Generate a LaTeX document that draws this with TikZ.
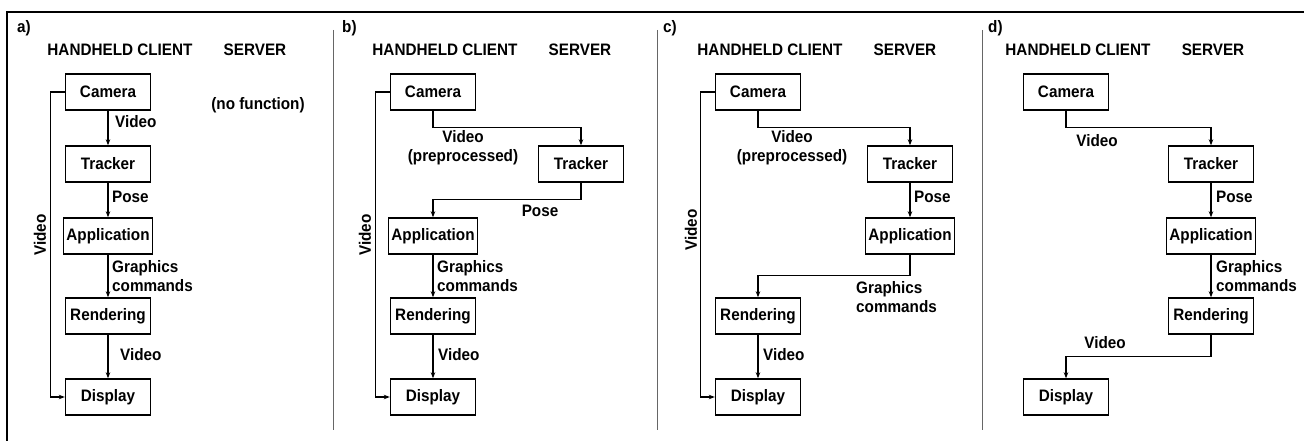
\documentclass[tikz,border=0pt]{standalone}
\usepackage{fontspec}
\setmainfont{Liberation Sans}[FakeStretch=0.92]
\usepackage{tikz}
\usetikzlibrary{arrows.meta}
\tikzstyle{bx}=[shape=rectangle,draw,line width=1.4pt,minimum width=85pt,minimum height=36pt,inner xsep=3pt]
\tikzstyle{to}=[-{Stealth[length=6pt,width=4.5pt]},line width=1.1pt]
\tikzstyle{lbl}=[inner sep=0pt,align=left]
\tikzstyle{hd}=[inner sep=0pt]
\tikzstyle{sep}=[line width=0.6pt,black!60]

\begin{document}
\begin{tikzpicture}[x=1pt,y=-1pt,font=\fontsize{16.6}{19}\selectfont\bfseries]
            \useasboundingbox (0,0) rectangle (1304,441);
            \draw[line width=2pt] (1304,12) -- (7,12) -- (7,441);
            % a) everything on the client
            \node[hd,anchor=west] (ta) at (17,28) {a)};
            \node[hd] (hca) at (120,50) {HANDHELD CLIENT};
            \node[hd] (sva) at (255,50) {SERVER};
            \node[hd] (nfa) at (258,105) {(no function)};
            \node[bx] (camA) at (108,92) {Camera};
            \node[bx] (trkA) at (108,164) {Tracker};
            \node[bx] (appA) at (108,236) {Application};
            \node[bx] (renA) at (108,316) {Rendering};
            \node[bx] (disA) at (108,397) {Display};
            \draw[to] (camA) -- (trkA);
            \draw[to] (trkA) -- (appA);
            \draw[to] (appA) -- (renA);
            \draw[to] (renA) -- (disA);
            \draw[to] (camA.west) -- ++(-14,0) |- (disA.west);
            \node[lbl,anchor=west] (va1) at (115,122) {Video};
            \node[lbl,anchor=west] (pa) at (112,197) {Pose};
            \node[lbl,anchor=west] (ga) at (112,276) {Graphics\\commands};
            \node[lbl,anchor=west] (va2) at (120,355) {Video};
            \node[lbl,rotate=90] (va3) at (40,235) {Video};
            % b) tracking on the server
            \draw[sep] (333,30) -- (333,430);
            \node[hd,anchor=west] (tb) at (342,28) {b)};
            \node[hd] (hcb) at (445,50) {HANDHELD CLIENT};
            \node[hd] (svb) at (580,50) {SERVER};
            \node[bx] (camB) at (433,92) {Camera};
            \node[bx] (trkB) at (581,164) {Tracker};
            \node[bx] (appB) at (433,236) {Application};
            \node[bx] (renB) at (433,316) {Rendering};
            \node[bx] (disB) at (433,397) {Display};
            \draw[to] (camB.south) -- ++(0,17) -| (trkB.north);
            \draw[to] (trkB.south) -- ++(0,17) -| (appB.north);
            \draw[to] (appB) -- (renB);
            \draw[to] (renB) -- (disB);
            \draw[to] (camB.west) -- ++(-14,0) |- (disB.west);
            \node[lbl,align=center] (vb1) at (463,148) {Video\\(preprocessed)};
            \node[lbl] (pb) at (540,211) {Pose};
            \node[lbl,anchor=west] (gb) at (437,276) {Graphics\\commands};
            \node[lbl,anchor=west] (vb2) at (438,355) {Video};
            \node[lbl,rotate=90] (vb3) at (365,235) {Video};
            % c) tracking and application on the server
            \draw[sep] (657,30) -- (657,430);
            \node[hd,anchor=west] (tc) at (663,28) {c)};
            \node[hd] (hcc) at (770,50) {HANDHELD CLIENT};
            \node[hd] (svc) at (905,50) {SERVER};
            \node[bx] (camC) at (758,92) {Camera};
            \node[bx] (trkC) at (910,164) {Tracker};
            \node[bx] (appC) at (910,236) {Application};
            \node[bx] (renC) at (758,316) {Rendering};
            \node[bx] (disC) at (758,397) {Display};
            \draw[to] (camC.south) -- ++(0,17) -| (trkC.north);
            \draw[to] (trkC) -- (appC);
            \draw[to] (appC.south) -- ++(0,21) -| (renC.north);
            \draw[to] (renC) -- (disC);
            \draw[to] (camC.west) -- ++(-14,0) |- (disC.west);
            \node[lbl,align=center] (vc1) at (792,148) {Video\\(preprocessed)};
            \node[lbl,anchor=west] (pc) at (914,197) {Pose};
            \node[lbl,anchor=west] (gc) at (856,297) {Graphics\\commands};
            \node[lbl,anchor=west] (vc2) at (763,355) {Video};
            \node[lbl,rotate=90] (vc3) at (691,230) {Video};
            % d) only camera and display on the client
            \draw[sep] (982,30) -- (982,430);
            \node[hd,anchor=west] (td) at (988,28) {d)};
            \node[hd] (hcd) at (1078,50) {HANDHELD CLIENT};
            \node[hd] (svd) at (1213,50) {SERVER};
            \node[bx] (camD) at (1066,92) {Camera};
            \node[bx] (trkD) at (1211,164) {Tracker};
            \node[bx] (appD) at (1211,236) {Application};
            \node[bx] (renD) at (1211,316) {Rendering};
            \node[bx] (disD) at (1066,397) {Display};
            \draw[to] (camD.south) -- ++(0,17) -| (trkD.north);
            \draw[to] (trkD) -- (appD);
            \draw[to] (appD) -- (renD);
            \draw[to] (renD.south) -- ++(0,22) -| (disD.north);
            \node[lbl] (vd1) at (1097,141) {Video};
            \node[lbl,anchor=west] (pd) at (1216,197) {Pose};
            \node[lbl,anchor=west] (gd) at (1216,276) {Graphics\\commands};
            \node[lbl] (vd2) at (1105,343) {Video};
        \end{tikzpicture}
\end{document}
